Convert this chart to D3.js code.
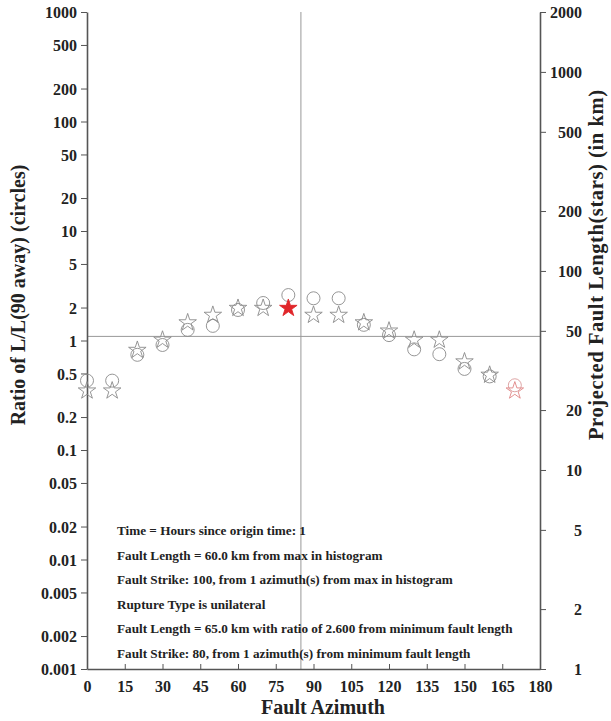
<!DOCTYPE html>
<html>
<head>
<meta charset="utf-8">
<script src="https://cdn.jsdelivr.net/npm/d3@7"></script>
<style>
  html, body { margin: 0; padding: 0; background: #fff; }
  svg { display: block; }
  text { font-family: "Liberation Serif", "Times New Roman", serif; font-weight: bold; fill: #222; }
</style>
</head>
<body>
<svg id="chart" width="611" height="721"></svg>
<script>
// Azimuths sampled every 10 degrees
const azimuths = [0, 10, 20, 30, 40, 50, 60, 70, 80, 90, 100, 110, 120, 130, 140, 150, 160, 170];
// Ratio of L/L(90 away), plotted as circles (left axis)
const ratios = [0.43, 0.43, 0.74, 0.91, 1.25, 1.36, 1.9, 2.2, 2.6, 2.43, 2.43, 1.39, 1.12, 0.83, 0.75, 0.55, 0.47, 0.39];
// Projected fault length in km, plotted as stars (right axis)
const lengths = [25, 25, 40, 45, 55, 60, 65, 65, 65, 60, 60, 55, 50, 45, 45, 35, 30, 25];

// Reference crosshair: strike of max histogram bin and the ratio level
const refAzimuth = 85;
const refRatio = 1.09;
// Highlighted picks
const minLengthAzimuth = 80;   // filled red star
const lastAzimuth = 170;       // pale red markers

const xTicks = [0, 15, 30, 45, 60, 75, 90, 105, 120, 135, 150, 165, 180];
const leftTicks = [0.001, 0.002, 0.005, 0.01, 0.02, 0.05, 0.1, 0.2, 0.5, 1, 2, 5, 10, 20, 50, 100, 200, 500, 1000];
const rightTicks = [1, 2, 5, 10, 20, 50, 100, 200, 500, 1000, 2000];

const infoLines = [
  "Time = Hours since origin time: 1",
  "Fault Length = 60.0 km from max in histogram",
  "Fault Strike: 100, from 1 azimuth(s) from max in histogram",
  "Rupture Type is unilateral",
  "Fault Length = 65.0 km with ratio of 2.600 from minimum fault length",
  "Fault Strike: 80, from 1 azimuth(s) from minimum fault length"
];

const plotLeft = 87, plotRight = 540, plotTop = 12, plotBottom = 669;
const svg = d3.select("#chart");

const x = d3.scaleLinear().domain([0, 180]).range([plotLeft, plotRight]);
const yL = d3.scaleLog().domain([0.001, 1000]).range([plotBottom, plotTop]);
const yR = d3.scaleLog().domain([1, 2000]).range([plotBottom, plotTop]);

const axisColor = "#555";
const markColor = "#8a8a8a";

// Crosshair lines
svg.append("line")
  .attr("x1", x(refAzimuth)).attr("x2", x(refAzimuth))
  .attr("y1", plotTop).attr("y2", plotBottom)
  .attr("stroke", "#999").attr("stroke-width", 1);
svg.append("line")
  .attr("x1", plotLeft).attr("x2", plotRight)
  .attr("y1", yL(refRatio)).attr("y2", yL(refRatio))
  .attr("stroke", "#999").attr("stroke-width", 1);

// Axes
function styleAxis(g) {
  g.selectAll(".domain").attr("stroke", axisColor).attr("stroke-width", 1.6);
  g.selectAll(".tick line").attr("stroke", axisColor).attr("stroke-width", 1);
  g.selectAll(".tick text").style("font-size", "16px").attr("fill", "#222");
}
const fmt = d => String(d);

svg.append("g")
  .attr("transform", `translate(${plotLeft},0)`)
  .call(d3.axisLeft(yL).tickValues(leftTicks).tickFormat(fmt).tickSize(6).tickSizeOuter(0).tickPadding(4))
  .call(styleAxis)
  .call(g => g.selectAll(".tick text").attr("dy", "0.35em"));

svg.append("g")
  .attr("transform", `translate(${plotRight},0)`)
  .call(d3.axisRight(yR).tickValues(rightTicks).tickFormat(fmt).tickSize(6).tickSizeOuter(0))
  .call(styleAxis)
  .call(g => g.selectAll(".tick text").attr("text-anchor", "end").attr("x", 42).attr("dy", "0.35em"));

svg.append("g")
  .attr("transform", `translate(0,${plotBottom})`)
  .call(d3.axisBottom(x).tickValues(xTicks).tickFormat(fmt).tickSize(-5).tickSizeOuter(0).tickPadding(9))
  .call(styleAxis)
  .call(g => g.selectAll(".tick text").attr("dy", "0.9em"));

// Axis titles
svg.append("text")
  .attr("transform", `translate(25,${(168 + 422) / 2}) rotate(-90)`)
  .attr("text-anchor", "middle")
  .style("font-size", "20px")
  .text("Ratio of L/L(90 away) (circles)");

svg.append("text")
  .attr("transform", `translate(603,265) rotate(-90)`)
  .attr("text-anchor", "middle")
  .attr("textLength", 350)
  .attr("lengthAdjust", "spacing")
  .style("font-size", "20.5px")
  .text("Projected Fault Length(stars) (in km)");

svg.append("text")
  .attr("x", 323).attr("y", 714)
  .attr("text-anchor", "middle")
  .style("font-size", "20px")
  .text("Fault Azimuth");

// Info block
svg.append("g").selectAll("text")
  .data(infoLines)
  .join("text")
  .attr("x", 117)
  .attr("y", (d, i) => 535 + i * 24.6)
  .style("font-size", "13.2px")
  .text(d => d);

// Markers
const starPath = d3.symbol().type(d3.symbolStar).size(95)();

const pts = azimuths.map((a, i) => ({ a, ratio: ratios[i], len: lengths[i] }));

svg.append("g").selectAll("circle")
  .data(pts)
  .join("circle")
  .attr("cx", d => x(d.a))
  .attr("cy", d => yL(d.ratio))
  .attr("r", 6.5)
  .attr("fill", "none")
  .attr("stroke", d => d.a === lastAzimuth ? "#d99a9a" : markColor)
  .attr("stroke-width", 0.9);

svg.append("g").selectAll("path")
  .data(pts)
  .join("path")
  .attr("d", starPath)
  .attr("transform", d => `translate(${x(d.a)},${yR(d.len)})`)
  .attr("fill", d => d.a === minLengthAzimuth ? "#e0262a" : "none")
  .attr("stroke", d => d.a === minLengthAzimuth ? "#e0262a" : (d.a === lastAzimuth ? "#e08585" : markColor))
  .attr("stroke-width", 0.9);
</script>
</body>
</html>
